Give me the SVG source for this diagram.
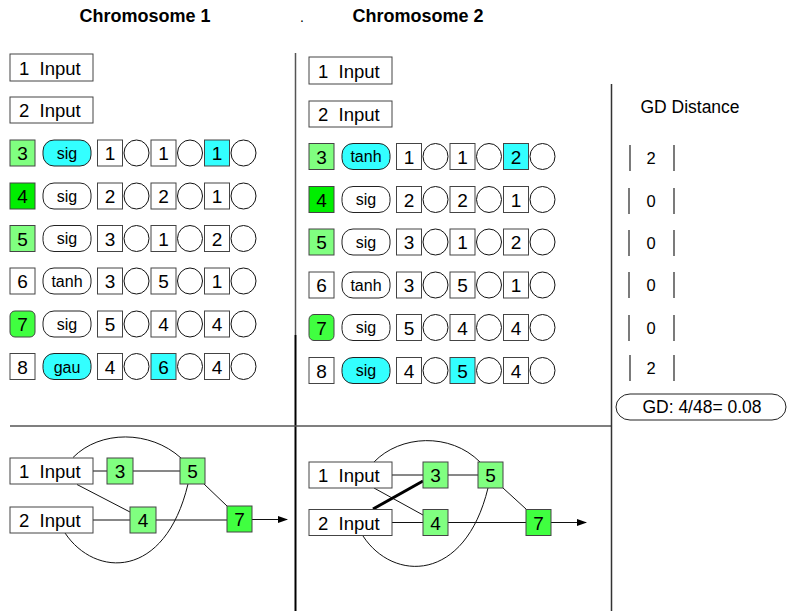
<svg xmlns="http://www.w3.org/2000/svg" width="787" height="611" viewBox="0 0 787 611">
<defs>
<style>
text{font-family:"Liberation Sans",Arial,Helvetica,sans-serif;fill:#000}
.ttl{font-size:18px;font-weight:bold;text-anchor:middle}
.n{font-size:19px;text-anchor:middle}
.lbl{font-size:18.5px}
.p{font-size:16px;text-anchor:middle}
.g{font-size:16.5px;text-anchor:middle}
.bx{fill:#fff;stroke:#444;stroke-width:1}
.lg{fill:#80FF80;stroke:#444;stroke-width:1}
.dg{fill:#00EE00;stroke:#444;stroke-width:1}
.mg{fill:#40FF40;stroke:#444;stroke-width:1}
.cy{fill:#33FFFF;stroke:#444;stroke-width:1}
.pl{fill:#fff;stroke:#222;stroke-width:1}
.plc{fill:#33FFFF;stroke:#222;stroke-width:1}
.ci{fill:#fff;stroke:#111;stroke-width:1}
.ln{fill:none;stroke:#111;stroke-width:1}
.div{fill:none;stroke:#555;stroke-width:1.5}
.bar{stroke:#222;stroke-width:1.2}
</style>
<marker id="ah" markerWidth="10" markerHeight="8" refX="9" refY="4" orient="auto" markerUnits="userSpaceOnUse">
<path d="M0,0.5 L10,4 L0,7.5 Z" fill="#000"/>
</marker>
</defs>
<rect width="787" height="611" fill="#fff"/>

<g id="titles">
<text class="ttl" x="145" y="22">Chromosome 1</text>
<text x="300" y="22" font-size="14">.</text>
<text class="ttl" x="418" y="22">Chromosome 2</text>
</g>

<g id="dividers">
<line class="div" x1="295.5" y1="53" x2="295.5" y2="335"/>
<line x1="295.5" y1="335" x2="295.5" y2="611" stroke="#000" stroke-width="2"/>
<line class="div" x1="10" y1="426" x2="611" y2="426"/>
<line x1="611.5" y1="84" x2="611.5" y2="611" stroke="#333" stroke-width="1.5"/>
</g>

<!-- Chromosome 1 genome -->
<g id="c1-in1"><rect class="bx" x="10" y="54" width="83" height="27"/><text class="lbl" x="19" y="74.5" xml:space="preserve">1  Input</text></g>
<g id="c1-in2"><rect class="bx" x="10" y="97" width="83" height="26"/><text class="lbl" x="19" y="117" xml:space="preserve">2  Input</text></g>

<g id="c1-row3" transform="translate(0,140)">
<rect class="lg" x="10" y="0" width="25" height="26"/><text class="n" x="22.5" y="20">3</text>
<rect class="plc" x="43" y="0" width="48" height="26" rx="11"/><text class="p" x="67" y="18.5">sig</text>
<rect class="bx" x="97.5" y="0" width="25" height="26"/><text class="n" x="110" y="20">1</text>
<ellipse class="ci" cx="136.5" cy="13" rx="12.5" ry="13"/>
<rect class="bx" x="151" y="0" width="25" height="26"/><text class="n" x="163.5" y="20">1</text>
<ellipse class="ci" cx="190" cy="13" rx="12.5" ry="13"/>
<rect class="cy" x="204.5" y="0" width="25" height="26"/><text class="n" x="217" y="20">1</text>
<ellipse class="ci" cx="243.5" cy="13" rx="12.5" ry="13"/>
</g>
<g id="c1-row4" transform="translate(0,183)">
<rect class="dg" x="10" y="0" width="25" height="26"/><text class="n" x="22.5" y="20">4</text>
<rect class="pl" x="43" y="0" width="48" height="26" rx="11"/><text class="p" x="67" y="18.5">sig</text>
<rect class="bx" x="97.5" y="0" width="25" height="26"/><text class="n" x="110" y="20">2</text>
<ellipse class="ci" cx="136.5" cy="13" rx="12.5" ry="13"/>
<rect class="bx" x="151" y="0" width="25" height="26"/><text class="n" x="163.5" y="20">2</text>
<ellipse class="ci" cx="190" cy="13" rx="12.5" ry="13"/>
<rect class="bx" x="204.5" y="0" width="25" height="26"/><text class="n" x="217" y="20">1</text>
<ellipse class="ci" cx="243.5" cy="13" rx="12.5" ry="13"/>
</g>
<g id="c1-row5" transform="translate(0,225.5)">
<rect class="lg" x="10" y="0" width="25" height="26"/><text class="n" x="22.5" y="20">5</text>
<rect class="pl" x="43" y="0" width="48" height="26" rx="11"/><text class="p" x="67" y="18.5">sig</text>
<rect class="bx" x="97.5" y="0" width="25" height="26"/><text class="n" x="110" y="20">3</text>
<ellipse class="ci" cx="136.5" cy="13" rx="12.5" ry="13"/>
<rect class="bx" x="151" y="0" width="25" height="26"/><text class="n" x="163.5" y="20">1</text>
<ellipse class="ci" cx="190" cy="13" rx="12.5" ry="13"/>
<rect class="bx" x="204.5" y="0" width="25" height="26"/><text class="n" x="217" y="20">2</text>
<ellipse class="ci" cx="243.5" cy="13" rx="12.5" ry="13"/>
</g>
<g id="c1-row6" transform="translate(0,268)">
<rect class="bx" x="10" y="0" width="25" height="26"/><text class="n" x="22.5" y="20">6</text>
<rect class="pl" x="43" y="0" width="48" height="26" rx="11"/><text class="p" x="67" y="18.5">tanh</text>
<rect class="bx" x="97.5" y="0" width="25" height="26"/><text class="n" x="110" y="20">3</text>
<ellipse class="ci" cx="136.5" cy="13" rx="12.5" ry="13"/>
<rect class="bx" x="151" y="0" width="25" height="26"/><text class="n" x="163.5" y="20">5</text>
<ellipse class="ci" cx="190" cy="13" rx="12.5" ry="13"/>
<rect class="bx" x="204.5" y="0" width="25" height="26"/><text class="n" x="217" y="20">1</text>
<ellipse class="ci" cx="243.5" cy="13" rx="12.5" ry="13"/>
</g>
<g id="c1-row7" transform="translate(0,311)">
<rect class="mg" x="10" y="0" width="25" height="26" rx="5"/><text class="n" x="22.5" y="20">7</text>
<rect class="pl" x="43" y="0" width="48" height="26" rx="11"/><text class="p" x="67" y="18.5">sig</text>
<rect class="bx" x="97.5" y="0" width="25" height="26"/><text class="n" x="110" y="20">5</text>
<ellipse class="ci" cx="136.5" cy="13" rx="12.5" ry="13"/>
<rect class="bx" x="151" y="0" width="25" height="26"/><text class="n" x="163.5" y="20">4</text>
<ellipse class="ci" cx="190" cy="13" rx="12.5" ry="13"/>
<rect class="bx" x="204.5" y="0" width="25" height="26"/><text class="n" x="217" y="20">4</text>
<ellipse class="ci" cx="243.5" cy="13" rx="12.5" ry="13"/>
</g>
<g id="c1-row8" transform="translate(0,353.5)">
<rect class="bx" x="10" y="0" width="25" height="26"/><text class="n" x="22.5" y="20">8</text>
<rect class="plc" x="43" y="0" width="48" height="26" rx="11"/><text class="p" x="67" y="19" font-size="17px">gau</text>
<rect class="bx" x="97.5" y="0" width="25" height="26"/><text class="n" x="110" y="20">4</text>
<ellipse class="ci" cx="136.5" cy="13" rx="12.5" ry="13"/>
<rect class="cy" x="151" y="0" width="25" height="26"/><text class="n" x="163.5" y="20">6</text>
<ellipse class="ci" cx="190" cy="13" rx="12.5" ry="13"/>
<rect class="bx" x="204.5" y="0" width="25" height="26"/><text class="n" x="217" y="20">4</text>
<ellipse class="ci" cx="243.5" cy="13" rx="12.5" ry="13"/>
</g>

<!-- Chromosome 2 genome -->
<g id="c2-in1"><rect class="bx" x="309" y="57" width="83" height="27"/><text class="lbl" x="318" y="77.5" xml:space="preserve">1  Input</text></g>
<g id="c2-in2"><rect class="bx" x="309" y="101" width="83" height="26"/><text class="lbl" x="318" y="121" xml:space="preserve">2  Input</text></g>

<g id="c2-row3" transform="translate(299,143.5)">
<rect class="lg" x="10" y="0" width="25" height="26"/><text class="n" x="22.5" y="20">3</text>
<rect class="plc" x="43" y="0" width="48" height="26" rx="11"/><text class="p" x="67" y="18.5">tanh</text>
<rect class="bx" x="97.5" y="0" width="25" height="26"/><text class="n" x="110" y="20">1</text>
<ellipse class="ci" cx="136.5" cy="13" rx="12.5" ry="13"/>
<rect class="bx" x="151" y="0" width="25" height="26"/><text class="n" x="163.5" y="20">1</text>
<ellipse class="ci" cx="190" cy="13" rx="12.5" ry="13"/>
<rect class="cy" x="204.5" y="0" width="25" height="26"/><text class="n" x="217" y="20">2</text>
<ellipse class="ci" cx="243.5" cy="13" rx="12.5" ry="13"/>
</g>
<g id="c2-row4" transform="translate(299,186.5)">
<rect class="dg" x="10" y="0" width="25" height="26"/><text class="n" x="22.5" y="20">4</text>
<rect class="pl" x="43" y="0" width="48" height="26" rx="11"/><text class="p" x="67" y="18.5">sig</text>
<rect class="bx" x="97.5" y="0" width="25" height="26"/><text class="n" x="110" y="20">2</text>
<ellipse class="ci" cx="136.5" cy="13" rx="12.5" ry="13"/>
<rect class="bx" x="151" y="0" width="25" height="26"/><text class="n" x="163.5" y="20">2</text>
<ellipse class="ci" cx="190" cy="13" rx="12.5" ry="13"/>
<rect class="bx" x="204.5" y="0" width="25" height="26"/><text class="n" x="217" y="20">1</text>
<ellipse class="ci" cx="243.5" cy="13" rx="12.5" ry="13"/>
</g>
<g id="c2-row5" transform="translate(299,229)">
<rect class="lg" x="10" y="0" width="25" height="26"/><text class="n" x="22.5" y="20">5</text>
<rect class="pl" x="43" y="0" width="48" height="26" rx="11"/><text class="p" x="67" y="18.5">sig</text>
<rect class="bx" x="97.5" y="0" width="25" height="26"/><text class="n" x="110" y="20">3</text>
<ellipse class="ci" cx="136.5" cy="13" rx="12.5" ry="13"/>
<rect class="bx" x="151" y="0" width="25" height="26"/><text class="n" x="163.5" y="20">1</text>
<ellipse class="ci" cx="190" cy="13" rx="12.5" ry="13"/>
<rect class="bx" x="204.5" y="0" width="25" height="26"/><text class="n" x="217" y="20">2</text>
<ellipse class="ci" cx="243.5" cy="13" rx="12.5" ry="13"/>
</g>
<g id="c2-row6" transform="translate(299,272)">
<rect class="bx" x="10" y="0" width="25" height="26"/><text class="n" x="22.5" y="20">6</text>
<rect class="pl" x="43" y="0" width="48" height="26" rx="11"/><text class="p" x="67" y="18.5">tanh</text>
<rect class="bx" x="97.5" y="0" width="25" height="26"/><text class="n" x="110" y="20">3</text>
<ellipse class="ci" cx="136.5" cy="13" rx="12.5" ry="13"/>
<rect class="bx" x="151" y="0" width="25" height="26"/><text class="n" x="163.5" y="20">5</text>
<ellipse class="ci" cx="190" cy="13" rx="12.5" ry="13"/>
<rect class="bx" x="204.5" y="0" width="25" height="26"/><text class="n" x="217" y="20">1</text>
<ellipse class="ci" cx="243.5" cy="13" rx="12.5" ry="13"/>
</g>
<g id="c2-row7" transform="translate(299,314.5)">
<rect class="mg" x="10" y="0" width="25" height="26" rx="5"/><text class="n" x="22.5" y="20">7</text>
<rect class="pl" x="43" y="0" width="48" height="26" rx="11"/><text class="p" x="67" y="18.5">sig</text>
<rect class="bx" x="97.5" y="0" width="25" height="26"/><text class="n" x="110" y="20">5</text>
<ellipse class="ci" cx="136.5" cy="13" rx="12.5" ry="13"/>
<rect class="bx" x="151" y="0" width="25" height="26"/><text class="n" x="163.5" y="20">4</text>
<ellipse class="ci" cx="190" cy="13" rx="12.5" ry="13"/>
<rect class="bx" x="204.5" y="0" width="25" height="26"/><text class="n" x="217" y="20">4</text>
<ellipse class="ci" cx="243.5" cy="13" rx="12.5" ry="13"/>
</g>
<g id="c2-row8" transform="translate(299,357.5)">
<rect class="bx" x="10" y="0" width="25" height="26"/><text class="n" x="22.5" y="20">8</text>
<rect class="plc" x="43" y="0" width="48" height="26" rx="11"/><text class="p" x="67" y="18.5">sig</text>
<rect class="bx" x="97.5" y="0" width="25" height="26"/><text class="n" x="110" y="20">4</text>
<ellipse class="ci" cx="136.5" cy="13" rx="12.5" ry="13"/>
<rect class="cy" x="151" y="0" width="25" height="26"/><text class="n" x="163.5" y="20">5</text>
<ellipse class="ci" cx="190" cy="13" rx="12.5" ry="13"/>
<rect class="bx" x="204.5" y="0" width="25" height="26"/><text class="n" x="217" y="20">4</text>
<ellipse class="ci" cx="243.5" cy="13" rx="12.5" ry="13"/>
</g>

<!-- GD distance column -->
<g id="gd">
<text x="690" y="113" font-size="17.5px" text-anchor="middle">GD Distance</text>
<g id="gd-r3"><line class="bar" x1="630" y1="145" x2="630" y2="171"/><line class="bar" x1="674" y1="145" x2="674" y2="171"/><text class="g" x="651" y="164">2</text></g>
<g id="gd-r4"><line class="bar" x1="629" y1="188" x2="629" y2="214"/><line class="bar" x1="674" y1="188" x2="674" y2="214"/><text class="g" x="651" y="207">0</text></g>
<g id="gd-r5"><line class="bar" x1="629" y1="230" x2="629" y2="256"/><line class="bar" x1="674" y1="230" x2="674" y2="256"/><text class="g" x="651" y="249">0</text></g>
<g id="gd-r6"><line class="bar" x1="629" y1="272" x2="629" y2="298"/><line class="bar" x1="674" y1="272" x2="674" y2="298"/><text class="g" x="651" y="291">0</text></g>
<g id="gd-r7"><line class="bar" x1="629" y1="315" x2="629" y2="341"/><line class="bar" x1="674" y1="315" x2="674" y2="341"/><text class="g" x="651" y="334">0</text></g>
<g id="gd-r8"><line class="bar" x1="630" y1="355" x2="630" y2="381"/><line class="bar" x1="674" y1="355" x2="674" y2="381"/><text class="g" x="651" y="374">2</text></g>
<g id="gd-total"><rect x="616" y="394" width="170" height="26" rx="14" ry="13" fill="#fff" stroke="#222" stroke-width="1"/><text x="702" y="413" font-size="17.5px" text-anchor="middle">GD: 4/48= 0.08</text></g>
</g>

<!-- Chromosome 1 network -->
<g id="c1-net-edges">
<line class="ln" x1="93" y1="471" x2="107" y2="471"/>
<line class="ln" x1="133" y1="471" x2="180" y2="471"/>
<line class="ln" x1="93" y1="520" x2="130" y2="520"/>
<line class="ln" x1="156" y1="520" x2="227" y2="520"/>
<line class="ln" x1="77" y1="484.5" x2="130" y2="512"/>
<line class="ln" x1="204" y1="484" x2="227" y2="506"/>
<path class="ln" d="M73,457.5 C100,430 150,430 181,458"/>
<path class="ln" d="M65,533 C95,578 165,580 188,484"/>
<line class="ln" x1="252" y1="519.5" x2="287" y2="519.5" marker-end="url(#ah)"/>
</g>
<g id="c1-net-in1"><rect class="bx" x="10" y="458" width="83" height="26"/><text class="lbl" x="19" y="478" xml:space="preserve">1  Input</text></g>
<g id="c1-net-in2"><rect class="bx" x="10" y="507" width="83" height="26"/><text class="lbl" x="19" y="527" xml:space="preserve">2  Input</text></g>
<g id="c1-net-3"><rect class="lg" x="107" y="458" width="26" height="26"/><text class="n" x="120" y="478">3</text></g>
<g id="c1-net-5"><rect class="lg" x="180" y="458" width="25" height="26"/><text class="n" x="192.5" y="478">5</text></g>
<g id="c1-net-4"><rect class="lg" x="130" y="507" width="26" height="26"/><text class="n" x="143" y="527">4</text></g>
<g id="c1-net-7"><rect class="mg" x="227" y="506" width="25" height="26"/><text class="n" x="239.5" y="526">7</text></g>

<!-- Chromosome 2 network -->
<g id="c2-net-edges">
<line class="ln" x1="392" y1="475" x2="423" y2="475"/>
<line class="ln" x1="448" y1="475" x2="478" y2="475"/>
<line class="ln" x1="392" y1="522.5" x2="423" y2="522.5"/>
<line class="ln" x1="448" y1="522.5" x2="526" y2="522.5"/>
<line class="ln" x1="374" y1="488" x2="423" y2="515"/>
<line class="ln" x1="503" y1="488" x2="526" y2="509"/>
<line x1="373" y1="509" x2="423" y2="481" stroke="#000" stroke-width="3"/>
<path class="ln" d="M374,462 C400,435 450,432 480,462"/>
<path class="ln" d="M363,536 C393,582 465,583 488,488"/>
<line class="ln" x1="551" y1="522.5" x2="586" y2="522.5" marker-end="url(#ah)"/>
</g>
<g id="c2-net-in1"><rect class="bx" x="309" y="462" width="83" height="26"/><text class="lbl" x="318" y="482" xml:space="preserve">1  Input</text></g>
<g id="c2-net-in2"><rect class="bx" x="309" y="509.5" width="83" height="26"/><text class="lbl" x="318" y="529.5" xml:space="preserve">2  Input</text></g>
<g id="c2-net-3"><rect class="lg" x="423" y="462" width="25" height="26"/><text class="n" x="435.5" y="482">3</text></g>
<g id="c2-net-5"><rect class="lg" x="478" y="462" width="25" height="26"/><text class="n" x="490.5" y="482">5</text></g>
<g id="c2-net-4"><rect class="lg" x="423" y="509.5" width="25" height="26"/><text class="n" x="435.5" y="529.5">4</text></g>
<g id="c2-net-7"><rect class="mg" x="526" y="509.5" width="25" height="26"/><text class="n" x="538.5" y="529.5">7</text></g>
</svg>
